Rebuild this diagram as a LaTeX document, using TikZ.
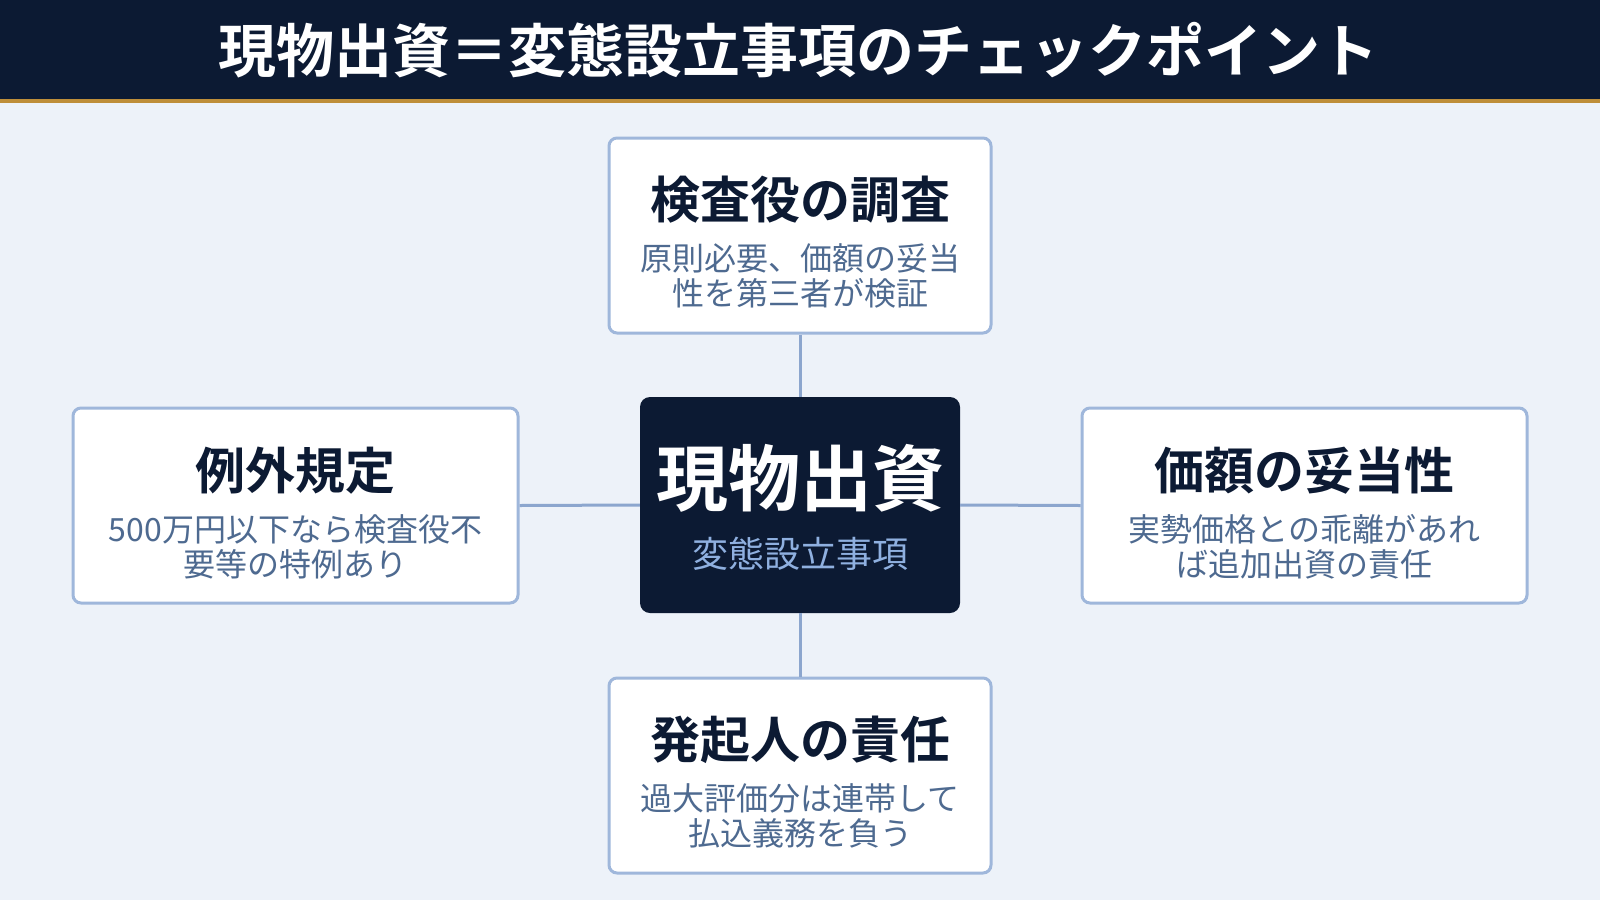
\documentclass[tikz,border=0pt]{standalone}
\usepackage{fontspec}
\setmainfont{Noto Sans CJK JP}[BoldFont={Noto Sans CJK JP Bold}]
\definecolor{navy}{HTML}{0C1A33}
\definecolor{gold}{HTML}{BE8E3A}
\definecolor{bgc}{HTML}{EDF2F9}
\definecolor{bord}{HTML}{9FB7DB}
\definecolor{conn}{HTML}{8CA6CE}
\definecolor{subc}{HTML}{4E6A90}
\definecolor{csub}{HTML}{8FB0E0}
\tikzset{
  card/.style={draw=bord, line width=3pt, fill=white, rounded corners=8pt, inner sep=0pt},
  hub/.style={fill=navy, rounded corners=10pt, inner sep=0pt},
  cardtitle/.style={anchor=base, inner sep=0pt, text=navy, font=\bfseries\fontsize{50}{56}\selectfont},
  cardsub/.style={anchor=base, inner sep=0pt, text=subc, font=\fontsize{32}{35}\selectfont},
  link/.style={draw=conn, line width=3pt},
}
\begin{document}
\begin{tikzpicture}[x=1pt,y=-1pt]
\useasboundingbox (0,0) rectangle (1600,900);
\fill[bgc] (0,0) rectangle (1600,900);
\fill[navy] (0,0) rectangle (1600,99);
\fill[gold] (0,99) rectangle (1600,103);
\node[anchor=base, inner sep=0pt, text=white, font=\bfseries\fontsize{58}{60}\selectfont] (ttl) at (798,72) {現物出資＝変態設立事項のチェックポイント};

% boxes
\node[card, minimum width=382pt, minimum height=195pt] (top) at (800,235.5) {};
\node[card, minimum width=445pt, minimum height=195pt] (lft) at (295.5,505.5) {};
\node[card, minimum width=445pt, minimum height=195pt] (rgt) at (1304.5,505.5) {};
\node[card, minimum width=382pt, minimum height=195pt] (bot) at (800,775.5) {};
\node[hub, minimum width=320pt, minimum height=216pt] (hub) at (800,505) {};

% connectors
\draw[link] (top.south) -- (hub.north);
\draw[link] (hub.south) -- (bot.north);
\draw[link] (lft.east) -- (hub.west);
\draw[link] (hub.east) -- (rgt.west);

% hub text
\node[anchor=base, inner sep=0pt, text=white, font=\bfseries\fontsize{72}{76}\selectfont] (hubt) at (800,505) {現物出資};
\node[anchor=base, inner sep=0pt, text=csub, font=\fontsize{36}{40}\selectfont] (hubs) at (800,567) {変態設立事項};

% top
\node[cardtitle] (topt) at (800,218) {検査役の調査};
\node[cardsub] (tops1) at (800,270) {原則必要、価額の妥当};
\node[cardsub] (tops2) at (800,305) {性を第三者が検証};
% left
\node[cardtitle] (lftt) at (295.5,489) {例外規定};
\node[cardsub] (lfts1) at (295.5,541) {500万円以下なら検査役不};
\node[cardsub] (lfts2) at (295.5,576) {要等の特例あり};
% right
\node[cardtitle] (rgtt) at (1304.5,489) {価額の妥当性};
\node[cardsub] (rgts1) at (1304.5,541) {実勢価格との乖離があれ};
\node[cardsub] (rgts2) at (1304.5,576) {ば追加出資の責任};
% bottom
\node[cardtitle] (bott) at (800,758) {発起人の責任};
\node[cardsub] (bots1) at (800,810) {過大評価分は連帯して};
\node[cardsub] (bots2) at (800,845) {払込義務を負う};
\end{tikzpicture}
\end{document}
